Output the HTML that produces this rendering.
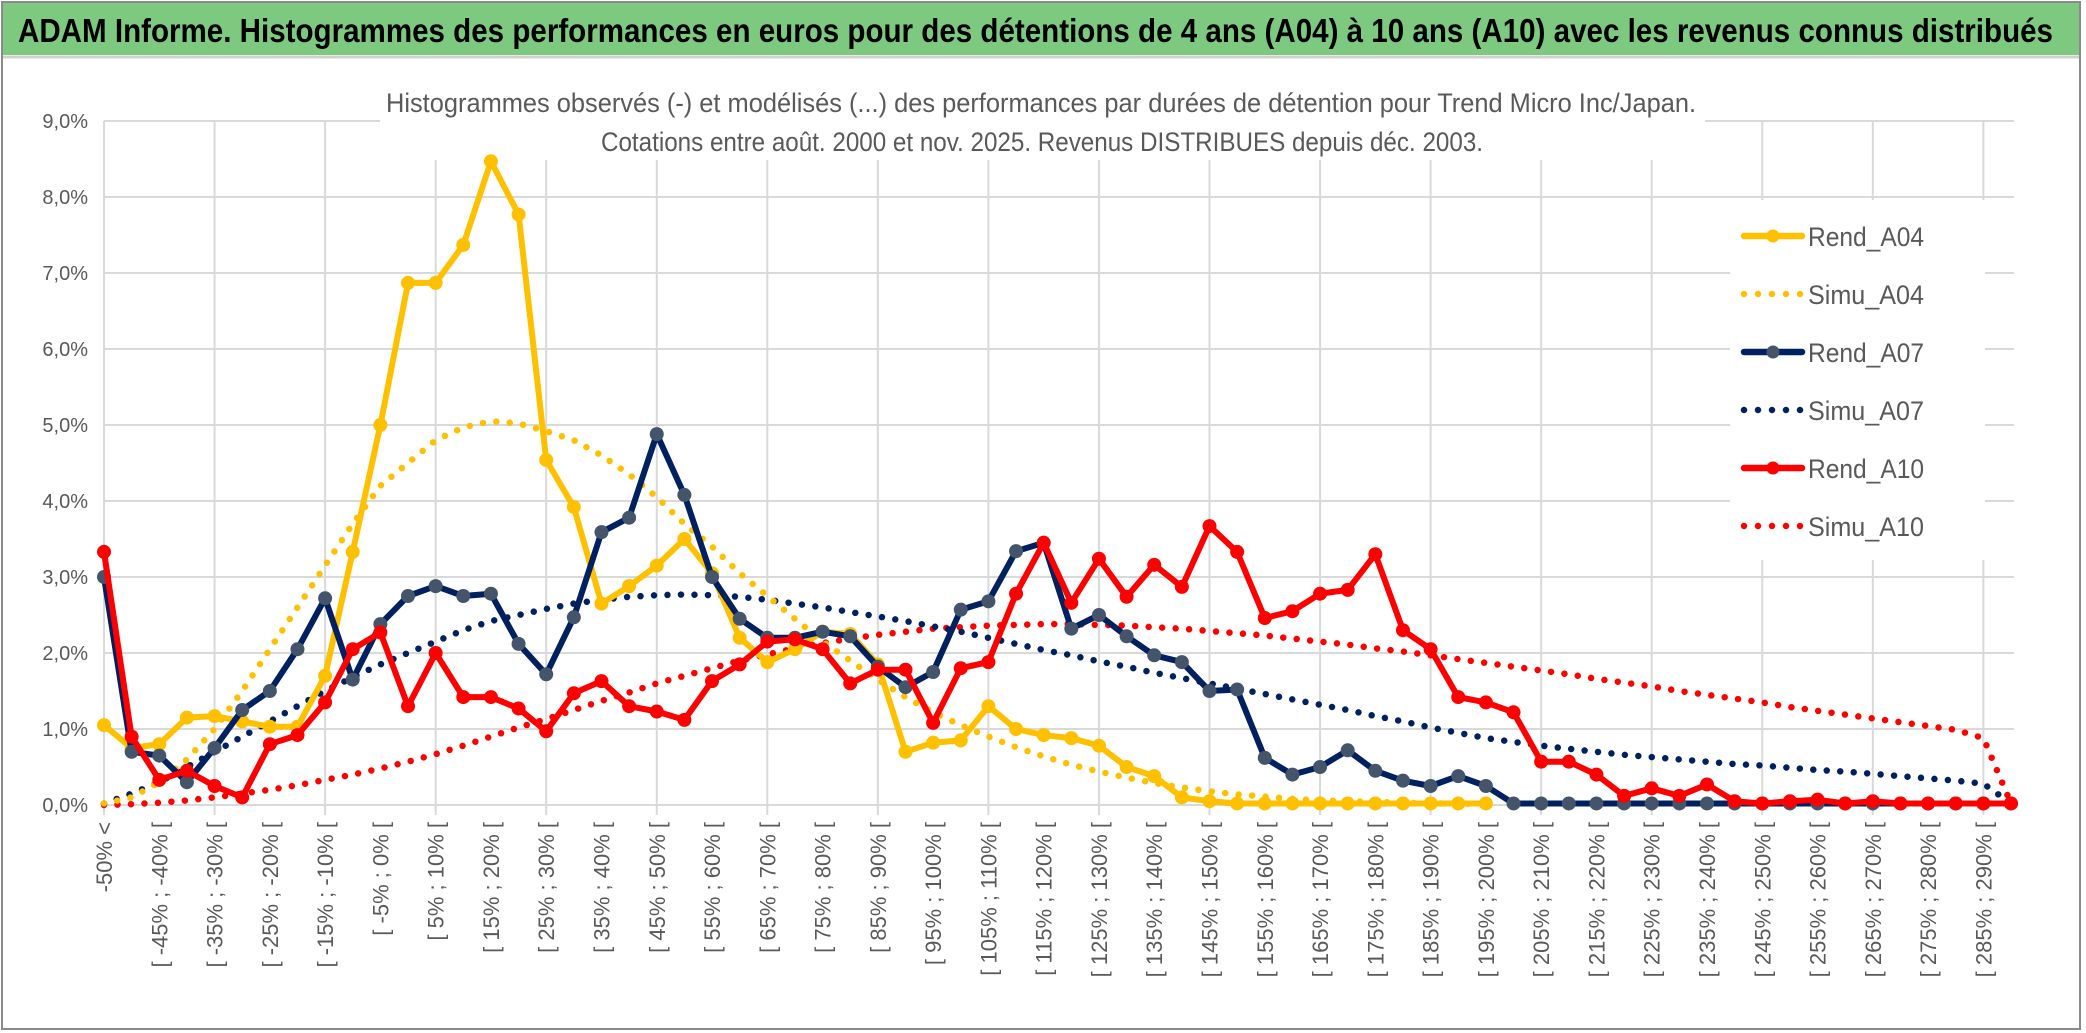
<!DOCTYPE html>
<html><head><meta charset="utf-8"><style>
html,body{margin:0;padding:0;background:#fff}
svg{display:block;font-family:"Liberation Sans",sans-serif}
</style></head><body>
<svg id="chart" width="2086" height="1033" viewBox="0 0 2086 1033" xmlns="http://www.w3.org/2000/svg">
<rect x="0" y="0" width="2086" height="1033" fill="#fff"/>
<rect x="2" y="2" width="2078" height="1027" fill="none" stroke="#8a8a8a" stroke-width="2"/>
<rect x="3" y="3" width="2076" height="52" fill="#7dc97f"/>
<line x1="3" y1="57" x2="2079" y2="57" stroke="#d0d0d0" stroke-width="3"/>
<text x="18" y="42" font-size="33" font-weight="bold" fill="#000" textLength="2035" lengthAdjust="spacingAndGlyphs">ADAM Informe. Histogrammes des performances en euros pour des détentions de 4 ans (A04) à 10 ans (A10) avec les revenus connus distribués</text>
<g id="grid"></g>
<g id="ylabels"></g>
<g id="xlabels"></g>
<rect x="380" y="80" width="1325" height="80" fill="#fff"/>
<text x="1041" y="112" font-size="27" fill="#595959" text-anchor="middle" textLength="1310" lengthAdjust="spacingAndGlyphs">Histogrammes observés (-) et modélisés (...) des performances par durées de détention pour Trend Micro Inc/Japan.</text>
<text x="1042" y="151" font-size="27" fill="#595959" text-anchor="middle" textLength="882" lengthAdjust="spacingAndGlyphs">Cotations entre août. 2000 et nov. 2025. Revenus DISTRIBUES depuis déc. 2003.</text>
<g id="series"></g>
<g id="legend"></g>
</svg>
<script>
const categories = [];
for (let i = 0; i < 70; i++) {
  if (i === 0) categories.push('-50% <');
  else categories.push('[ ' + (-50 + 5 * (i - 1)) + '% ; ' + (-50 + 5 * i) + '% [');
}
const yTicks = [0,1,2,3,4,5,6,7,8,9];
const yTickLabels = ['0,0%','1,0%','2,0%','3,0%','4,0%','5,0%','6,0%','7,0%','8,0%','9,0%'];
const rendA04 = [1.05,0.75,0.8,1.15,1.17,1.1,1.03,1.03,1.7,3.33,5.0,6.87,6.87,7.37,8.47,7.77,4.54,3.92,2.65,2.88,3.15,3.5,3.05,2.2,1.88,2.05,2.28,2.25,1.85,0.7,0.82,0.85,1.3,1.0,0.92,0.88,0.78,0.5,0.38,0.1,0.05,0.02,0.02,0.02,0.02,0.02,0.02,0.02,0.02,0.02,0.02,null,null,null,null,null,null,null,null,null,null,null,null,null,null,null,null,null,null,null];
const simuA04 = [0.02,0.1,0.3,0.6,1.0,1.5,2.05,2.6,3.15,3.7,4.2,4.5,4.8,4.97,5.05,5.02,4.92,4.8,4.6,4.35,4.05,3.7,3.4,3.05,2.75,2.45,2.15,1.9,1.65,1.42,1.22,1.05,0.9,0.76,0.64,0.53,0.44,0.36,0.29,0.23,0.18,0.14,0.11,0.08,0.06,0.05,0.04,0.03,0.02,0.02,0.01,null,null,null,null,null,null,null,null,null,null,null,null,null,null,null,null,null,null,null];
const rendA07 = [3.0,0.7,0.65,0.3,0.75,1.25,1.5,2.05,2.72,1.65,2.38,2.75,2.88,2.75,2.78,2.12,1.72,2.47,3.59,3.78,4.88,4.08,3.0,2.45,2.2,2.2,2.28,2.22,1.82,1.55,1.75,2.57,2.68,3.34,3.45,2.32,2.5,2.22,1.97,1.88,1.5,1.52,0.62,0.4,0.5,0.72,0.45,0.32,0.25,0.38,0.25,0.02,0.02,0.02,0.02,0.02,0.02,0.02,0.02,0.02,0.02,0.02,0.02,0.02,0.02,0.02,0.02,0.02,0.02,0.02];
const simuA07 = [0.02,0.15,0.3,0.5,0.7,0.9,1.1,1.3,1.5,1.68,1.85,2.0,2.15,2.3,2.42,2.5,2.58,2.65,2.7,2.74,2.76,2.77,2.76,2.74,2.7,2.65,2.6,2.54,2.48,2.42,2.35,2.28,2.2,2.12,2.04,1.97,1.89,1.82,1.74,1.67,1.6,1.53,1.46,1.39,1.32,1.25,1.17,1.1,1.02,0.95,0.88,0.83,0.78,0.74,0.7,0.66,0.63,0.6,0.57,0.54,0.52,0.49,0.46,0.44,0.41,0.38,0.35,0.32,0.28,0.02];
const rendA10 = [3.33,0.9,0.33,0.45,0.25,0.1,0.8,0.92,1.35,2.05,2.27,1.3,2.0,1.42,1.42,1.27,0.97,1.47,1.63,1.3,1.23,1.12,1.63,1.85,2.15,2.18,2.05,1.6,1.78,1.78,1.08,1.8,1.88,2.78,3.45,2.66,3.24,2.74,3.16,2.87,3.67,3.33,2.46,2.55,2.78,2.83,3.3,2.3,2.05,1.42,1.35,1.22,0.57,0.57,0.4,0.12,0.22,0.12,0.27,0.05,0.02,0.05,0.07,0.02,0.05,0.02,0.02,0.02,0.02,0.02];
const simuA10 = [0,0.01,0.03,0.06,0.1,0.15,0.2,0.26,0.33,0.4,0.48,0.57,0.67,0.78,0.9,1.02,1.13,1.25,1.37,1.48,1.6,1.7,1.8,1.9,1.98,2.06,2.13,2.19,2.24,2.28,2.32,2.34,2.36,2.37,2.38,2.38,2.37,2.36,2.34,2.32,2.29,2.26,2.23,2.19,2.15,2.11,2.06,2.02,1.97,1.92,1.87,1.82,1.77,1.72,1.66,1.61,1.56,1.5,1.45,1.4,1.35,1.29,1.24,1.19,1.14,1.09,1.04,0.99,0.88,0.02];

const NS = 'http://www.w3.org/2000/svg';
const X0 = 104, X1 = 2011, Y0 = 805, YTOP = 121, YMAX = 9;
const xScale = i => X0 + i * (X1 - X0) / (categories.length - 1);
const yScale = v => Y0 - v * (Y0 - YTOP) / YMAX;
function mk(tag, attrs, parent) { const e = document.createElementNS(NS, tag); for (const k in attrs) e.setAttribute(k, attrs[k]); parent.appendChild(e); return e; }

const grid = document.getElementById('grid');
yTicks.forEach(t => {
  const l = mk('line', {x1: X0, x2: 2014, y1: yScale(t), y2: yScale(t), stroke: '#d9d9d9', 'stroke-width': 2}, grid);
  
  
});
for (let i = 0; i < categories.length; i += 4) {
  const l = mk('line', {x1: xScale(i), x2: xScale(i), y1: YTOP, y2: Y0 + 10, stroke: '#d9d9d9', 'stroke-width': 2}, grid);
  
  
}
const yl = document.getElementById('ylabels');
yTicks.forEach((t, k) => {
  const e = mk('text', {x: 88, y: yScale(t) + 7, 'font-size': 20, fill: '#595959', 'text-anchor': 'end'}, yl);
  e.textContent = yTickLabels[k];
  
  
});
const xl = document.getElementById('xlabels');
categories.forEach((c, i) => {
  if (i % 2) return;
  const x = xScale(i) + 8, y = 822;
  const e = mk('text', {x: x, y: y, 'font-size': 22, fill: '#595959', 'text-anchor': 'end', transform: 'rotate(-90 ' + x + ' ' + y + ')'}, xl);
  e.textContent = c;
  
  
});

const series = document.getElementById('series');
function pathOf(arr) {
  let d = '', pen = false;
  arr.forEach((v, i) => {
    if (v === null) { pen = false; return; }
    d += (pen ? 'L' : 'M') + xScale(i).toFixed(1) + ' ' + yScale(v).toFixed(1) + ' ';
    pen = true;
  });
  return d;
}
function dotted(arr, color, name) {
  const p = mk('path', {d: pathOf(arr), fill: 'none', stroke: color, 'stroke-width': 6.5, 'stroke-linecap': 'round', 'stroke-dasharray': '0 13.5'}, series);
  
  
}
function solid(arr, color, mcolor, name) {
  const g = mk('g', {}, series);
  
  
  mk('path', {d: pathOf(arr), fill: 'none', stroke: color, 'stroke-width': 6, 'stroke-linejoin': 'round'}, g);
  arr.forEach((v, i) => {
    if (v === null) return;
    const c = mk('circle', {cx: xScale(i), cy: yScale(v), r: 7, fill: mcolor}, g);
    
    
  });
}
dotted(simuA10, '#ff0000', 'simu-a10-line');
dotted(simuA07, '#002060', 'simu-a07-line');
dotted(simuA04, '#ffc000', 'simu-a04-line');
solid(rendA04, '#ffc000', '#ffc000', 'rend-a04-line');
solid(rendA07, '#002060', '#44546a', 'rend-a07-line');
solid(rendA10, '#ff0000', '#ff0000', 'rend-a10-line');

const legend = document.getElementById('legend');
const lbg = mk('rect', {x: 1730, y: 200, width: 255, height: 360, fill: '#fff'}, legend);


const legNames = ['Rend_A04','Simu_A04','Rend_A07','Simu_A07','Rend_A10','Simu_A10'];
const legColors = ['#ffc000','#ffc000','#002060','#002060','#ff0000','#ff0000'];
const legMarkers = ['#ffc000',null,'#44546a',null,'#ff0000',null];
legNames.forEach((n, k) => {
  const y = 236 + k * 58;
  const g = mk('g', {}, legend);
  
  
  if (legMarkers[k]) {
    mk('line', {x1: 1744, x2: 1802, y1: y, y2: y, stroke: legColors[k], 'stroke-width': 6.5, 'stroke-linecap': 'round'}, g);
    mk('circle', {cx: 1773, cy: y, r: 6.5, fill: legMarkers[k]}, g);
  } else {
    mk('line', {x1: 1744, x2: 1802, y1: y, y2: y, stroke: legColors[k], 'stroke-width': 6.5, 'stroke-linecap': 'round', 'stroke-dasharray': '0 14'}, g);
  }
  const t = mk('text', {x: 1808, y: y + 10, 'font-size': 27, fill: '#595959', textLength: 116, lengthAdjust: 'spacingAndGlyphs'}, g);
  t.textContent = n;
});
</script>
</body></html>
